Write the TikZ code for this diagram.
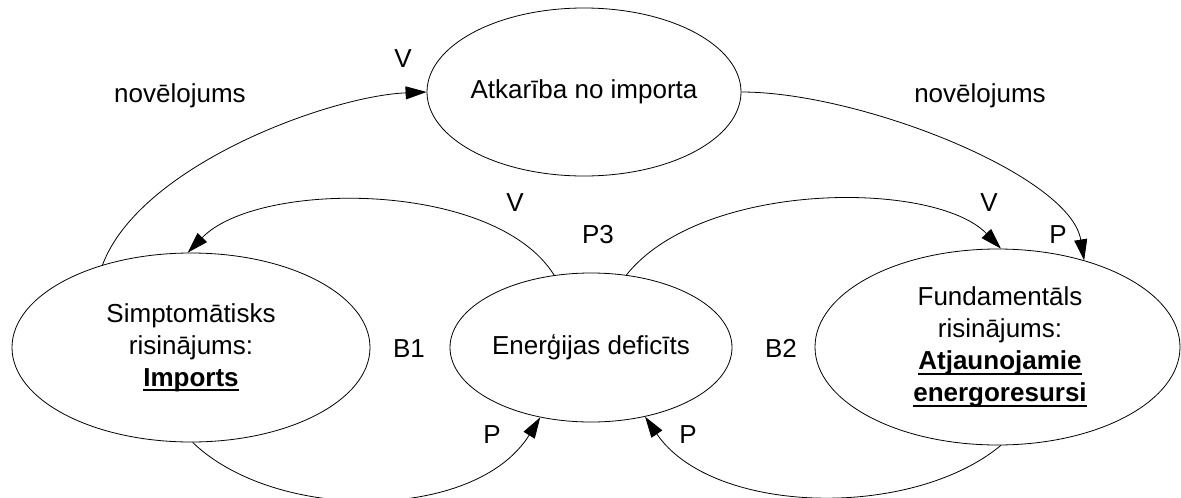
\documentclass[tikz,border=0pt]{standalone}
\usepackage{fontspec}
\setmainfont{Liberation Sans}
\usetikzlibrary{arrows.meta,shapes.geometric}
\newcommand{\ulx}[1]{\setbox0\hbox{#1}\rlap{\rule[-5pt]{\wd0}{1.8pt}}\box0}
\begin{document}
\begin{tikzpicture}[x=1pt,y=-1pt, line width=0.8pt,
  ell/.style={draw, ellipse, inner sep=0pt},
  txt/.style={font=\fontsize{26}{32}\selectfont, align=center, inner sep=0pt},
  lbl/.style={font=\fontsize{26}{32}\selectfont, inner sep=0pt, anchor=base},
  conn/.style={-{Triangle[length=21pt,width=13pt]}}]
\useasboundingbox (0,0) rectangle (1181,498);
% ellipses
\node[ell, minimum width=314pt, minimum height=168pt] (nimp) at (584,92) {};
\node[ell, minimum width=358pt, minimum height=189pt] (nsym) at (191,347.5) {};
\node[ell, minimum width=282pt, minimum height=149pt] (ndef) at (591,347.5) {};
\node[ell, minimum width=365pt, minimum height=196pt] (nfun) at (997.5,347) {};
% texts
\node[txt] (timp) at (nimp.center) {Atkarība no importa};
\node[txt] (tsym) at (nsym.center) {Simptomātisks\\risinājums:\\\textbf{\ulx{Imports}}};
\node[txt] (tdef) at (ndef.center) {Enerģijas deficīts};
\node[txt, xshift=2.5pt] (tfun) at (nfun.center) {Fundamentāls\\risinājums:\\\textbf{\ulx{Atjaunojamie}}\\\textbf{\ulx{energoresursi}}};
% labels
\node[lbl] (l1) at (180,102) {novēlojums};
\node[lbl] (l2) at (980,102) {novēlojums};
\node[lbl] (v1) at (403,67) {V};
\node[lbl] (v2) at (515,211) {V};
\node[lbl] (p3) at (598,243) {P3};
\node[lbl] (v3) at (989,211) {V};
\node[lbl] (pa) at (1058,243) {P};
\node[lbl] (b1) at (409,357) {B1};
\node[lbl] (b2) at (781,357) {B2};
\node[lbl] (pb) at (492,443) {P};
\node[lbl] (pc) at (688,443) {P};
% connectors
\draw[conn] (nsym.137.8) .. controls (140,165) and (330,96) .. (nimp.west);
\draw[conn] (nimp.east) .. controls (860,92) and (1070,175) .. (nfun.45.5);
\draw[conn] (ndef.117.7) .. controls (495,180) and (258,180) .. (nsym.92);
\draw[conn] (ndef.64.2) .. controls (702,180) and (935,180) .. (nfun.88.6);
\draw[conn] (nsym.271) .. controls (275,522) and (475,522) .. (ndef.234);
\draw[conn] (nfun.272) .. controls (911,520) and (712,515) .. (ndef.308.5);
\end{tikzpicture}
\end{document}
